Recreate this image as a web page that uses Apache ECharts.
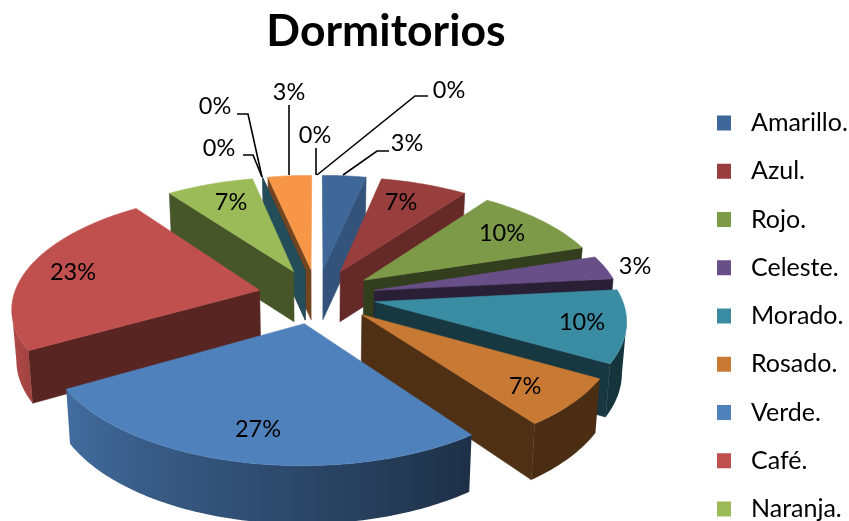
<!DOCTYPE html>
<html>
<head>
<meta charset="utf-8">
<style>html,body{margin:0;padding:0;background:#fff;overflow:hidden}#c{width:849px;height:521px}</style>
<script src="https://cdn.jsdelivr.net/npm/echarts@6/dist/echarts.min.js"></script>
</head>
<body>
<div id="c"></div>
<script>
// ---- data ----
var chartTitle = 'Dormitorios';
var legendNames = ['Amarillo.', 'Azul.', 'Rojo.', 'Celeste.', 'Morado.', 'Rosado.', 'Verde.', 'Café.', 'Naranja.'];
// The legend is cut off by the picture: the last five names cannot be read.
var hiddenNames = ['Cat. 10', 'Cat. 11', 'Cat. 12', 'Cat. 13', 'Cat. 14'];
var counts = [1, 2, 3, 1, 3, 2, 8, 7, 2, 0, 0, 1, 0, 0];
var sliceColors = ['#3F6797', '#983E3C', '#7D9A48', '#684F88', '#3A8CA3', '#C87934',
                   '#4F81BD', '#C0504D', '#9BBB59', '#8064A2', '#4BACC6', '#F79646', '#2C4D75', '#772C2A'];

// ---- layout (not data) ----
var CX = 317, CY = 296, RX = 246, RY = 114, PERSP = 0.138, EXPLODE = 0.24;
var labelLayout = [
  {at: [407, 143], leader: [[343, 175], [377, 151], [389, 151]]},
  {at: [401, 202]},
  {at: [502, 233]},
  {at: [635, 266]},
  {at: [582, 322]},
  {at: [525, 386]},
  {at: [258, 429]},
  {at: [73, 272]},
  {at: [231, 202]},
  {at: [219, 148], leader: [[243, 155], [253, 155], [262, 177]]},
  {at: [215, 106], leader: [[237, 114], [248, 114], [262, 177]]},
  {at: [289, 92], leader: [[289, 105], [289, 175]]},
  {at: [315, 135], leader: [[316, 148], [316, 175]]},
  {at: [449, 90], leader: [[428, 96], [415, 96], [317, 175]]}
];

var names = legendNames.concat(hiddenNames);
var total = counts.reduce(function (a, b) { return a + b; }, 0);
var FONT = 'Lato, "Open Sans", sans-serif';

function shade(hex, f) {
  var n = parseInt(hex.slice(1), 16);
  var c = [n >> 16 & 255, n >> 8 & 255, n & 255].map(function (v) { return Math.round(v * f); });
  return 'rgb(' + c.join(',') + ')';
}
function rad(d) { return d * Math.PI / 180; }
function project(ux, uz) {
  var w = 1 - PERSP * uz;
  return [CX + ux * RX / w, CY + uz * RY / w];
}
function lower(p) {
  return [CX + (p[0] - CX) * 0.985, p[1] + 50 + Math.max(0, p[1] - 300) * 0.05];
}
function radialWallFactor(t) {
  if (t < 72) return 0.88 - t * 0.006;
  return t < 200 ? 0.4 : 0.46;
}
function arcWallFactor(t) {
  return Math.max(0.37, Math.min(0.9, 0.37 + (t - 144) * 0.005));
}

var spans = [], cum = 0;
counts.forEach(function (v) {
  var a0 = cum / total * 360; cum += v;
  spans.push([a0, cum / total * 360]);
});

function sliceShape(i) {
  var a0 = spans[i][0], a1 = spans[i][1], mid = (a0 + a1) / 2;
  var ox = Math.sin(rad(mid)) * EXPLODE, oz = -Math.cos(rad(mid)) * EXPLODE;
  var at = function (t, r) {
    return project(ox + Math.sin(rad(t)) * r, oz - Math.cos(rad(t)) * r);
  };
  return {a0: a0, a1: a1, apex: at(0, 0), at: at};
}
function poly(points, fill) {
  return {type: 'polygon', shape: {points: points},
          style: {fill: fill, stroke: fill, lineWidth: 0.6}};
}
function wall(a, b, fill) {
  return poly([a, b, lower(b), lower(a)], fill);
}
function arcWall(points, angles, color) {
  if (points.length < 2) return null;
  var x0 = points[0][0], x1 = points[points.length - 1][0];
  var stops = points.map(function (p, k) {
    return {offset: Math.max(0, Math.min(1, (x0 - p[0]) / (x0 - x1))),
            color: shade(color, arcWallFactor(angles[k]))};
  });
  var gradient = {type: 'linear', x: x0, y: 0, x2: x1, y2: 0, global: true, colorStops: stops};
  var outline = points.concat(points.slice().reverse().map(lower));
  return {type: 'polygon', shape: {points: outline}, style: {fill: gradient}};
}

function renderSlice(i) {
  var s = sliceShape(i), kids = [], color = sliceColors[i];
  var steps = Math.max(Math.ceil(s.a1 - s.a0), 1), arc = [], ang = [];
  for (var k = 0; k <= steps; k++) {
    ang.push(s.a0 + (s.a1 - s.a0) * k / steps);
    arc.push(s.at(ang[k], 1));
  }
  var oStart = arc[0], oEnd = arc[steps];
  if (counts[i] === 0) {
    // A zero slice is only a flat wall; straight up (0 degrees) it has no visible width.
    if (Math.abs(oStart[0] - s.apex[0]) > 1) kids.push(wall(s.apex, oStart, shade(color, 0.45)));
    return {type: 'group', children: kids};
  }
  if (oStart[0] < s.apex[0] - 1) kids.push(wall(s.apex, oStart, shade(color, radialWallFactor(s.a0))));
  if (oEnd[0] > s.apex[0] + 1) kids.push(wall(s.apex, oEnd, shade(color, radialWallFactor(s.a1))));
  var vis = [], visAng = [];
  for (k = 0; k < steps; k++) {
    if (arc[k + 1][0] < arc[k][0]) {
      if (!vis.length) { vis.push(arc[k]); visAng.push(ang[k]); }
      vis.push(arc[k + 1]); visAng.push(ang[k + 1]);
    }
  }
  var w = arcWall(vis, visAng, color);
  if (w) kids.push(w);
  kids.push(poly([s.apex].concat(arc), color));
  return {type: 'group', children: kids};
}

function renderLabel(params) {
  var i = params.dataIndex, spot = labelLayout[i], kids = [];
  if (spot.leader) {
    kids.push({type: 'polyline', shape: {points: spot.leader},
               style: {fill: null, stroke: '#000', lineWidth: 1.6}});
  }
  kids.push({type: 'text', x: spot.at[0], y: spot.at[1],
             style: {text: Math.round(counts[i] / total * 100) + '%', fill: '#000',
                     font: '23.5px ' + FONT, align: 'center', verticalAlign: 'middle'}});
  return {type: 'group', children: kids};
}

var series = names.map(function (name, i) {
  var mid = (spans[i][0] + spans[i][1]) / 2;
  return {
    name: name, type: 'custom', coordinateSystem: 'none', silent: true, animation: false,
    z: 10 - Math.cos(rad(mid)) * 5,
    itemStyle: {color: sliceColors[i]},
    data: [counts[i]],
    renderItem: function () { return renderSlice(i); }
  };
});
series.push({
  name: 'etiquetas', type: 'custom', coordinateSystem: 'none', silent: true, animation: false, z: 30,
  data: counts, renderItem: renderLabel
});

var chart = echarts.init(document.getElementById('c'), null, {renderer: 'canvas', width: 849, height: 521});
chart.setOption({
  backgroundColor: '#fff',
  animation: false,
  title: {text: chartTitle, left: 381, top: 4, textAlign: 'center',
          textStyle: {fontFamily: FONT, fontWeight: 'bold', fontSize: 44.5, color: '#000'}},
  legend: {
    data: legendNames, orient: 'vertical', left: 717, top: 109, height: 900, padding: 0,
    itemWidth: 14, itemHeight: 15, itemGap: 20.25, icon: 'rect', selectedMode: false,
    textStyle: {fontFamily: FONT, fontSize: 25, color: '#000', lineHeight: 28, padding: [0, 0, 0, 15]}
  },
  series: series
});
</script>
</body>
</html>
